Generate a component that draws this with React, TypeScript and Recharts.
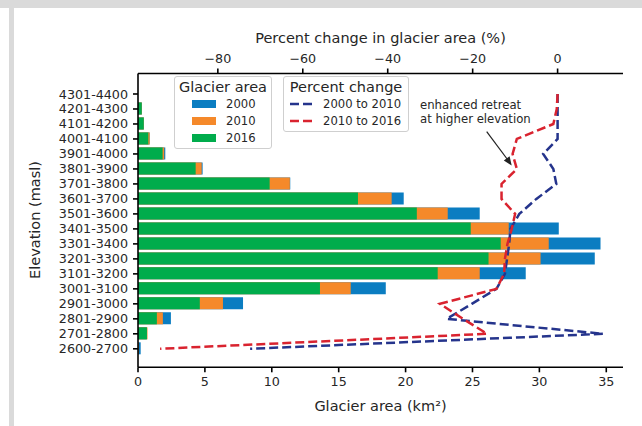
import React from 'react';
import { ComposedChart, Bar, Line, XAxis, YAxis } from 'recharts';

// elevation bands, listed top to bottom as drawn
const bands = [
  '4301-4400', '4201-4300', '4101-4200', '4001-4100', '3901-4000', '3801-3900',
  '3701-3800', '3601-3700', '3501-3600', '3401-3500', '3301-3400', '3201-3300',
  '3101-3200', '3001-3100', '2901-3000', '2801-2900', '2701-2800', '2600-2700',
];

// glacier area (km2) per band
const area2000 = [0, 0.28, 0.43, 0.87, 2.04, 4.83, 11.38, 19.86, 25.54, 31.45, 34.57, 34.14, 28.98, 18.52, 7.85, 2.46, 0.64, 0.2];
const area2010 = [0, 0.28, 0.43, 0.87, 1.96, 4.76, 11.35, 18.96, 23.15, 27.71, 30.7, 30.09, 25.54, 15.9, 6.35, 1.86, 0.71, 0.06];
const area2016 = [0, 0.28, 0.43, 0.77, 1.84, 4.31, 9.84, 16.44, 20.84, 24.87, 27.11, 26.2, 22.4, 13.6, 4.62, 1.41, 0.67, 0];

// percent change per band
const change0010 = [0, 0, 0, 0, -3.4, -1.0, -0.3, -5.0, -9.0, -11.1, -11.4, -11.9, -12.4, -14.4, -20.2, -26.1, 10.7, -72.4];
const change1016 = [0, -0.2, -1.0, -9.6, -10.6, -9.6, -13.2, -13.2, -10.0, -10.8, -11.8, -12.4, -12.6, -14.4, -27.7, -22.3, -16.6, -93.6];

const areaTicks = [0, 5, 10, 15, 20, 25, 30, 35];
const pctTicks = [-80, -60, -40, -20, 0];

const rows = bands.map((band, i) => ({
  band,
  a2000: area2000[i],
  a2010: area2010[i],
  a2016: area2016[i],
  c0010: change0010[i],
  c1016: change1016[i],
}));

const BLUE = '#0b7dc1';
const ORANGE = '#f5892a';
const GREEN = '#00ac4c';
const NAVY = '#25348c';
const RED = '#d9232f';
const FONT = '"DejaVu Sans", sans-serif';
const INK = '#262626';

const tickStyle = { fontSize: 12.7, fill: INK, fontFamily: FONT };
const minus = (v: number) => (v < 0 ? '\u2212' + Math.abs(v) : String(v));

export default function App() {
  return (
    <div style={{ position: 'absolute', left: 0, top: 0, width: 642, height: 426, background: '#fff', fontFamily: FONT, color: INK }}>
      {/* grey page frame */}
      <div style={{ position: 'absolute', left: 0, top: 0, width: 642, height: 8, background: '#dadada' }} />
      <div style={{ position: 'absolute', left: 9, top: 0, width: 5, height: 426, background: '#dadada' }} />

      <div style={{ position: 'absolute', left: 0, top: 0 }}>
        <ComposedChart
          width={642}
          height={426}
          data={rows}
          layout="vertical"
          margin={{ top: 0, right: 19, bottom: 0, left: 0 }}
          barSize={12}
          barGap={-12}
        >
          <XAxis
            xAxisId="area"
            type="number"
            orientation="bottom"
            domain={[0, 36.25]}
            allowDataOverflow
            ticks={areaTicks}
            height={58.7}
            tick={tickStyle}
            tickSize={5}
            tickMargin={5}
            stroke="#000"
            strokeWidth={1.6}
            label={{ value: 'Glacier area (km\u00b2)', position: 'insideBottom', offset: 15, fontSize: 14.5, fill: INK, fontFamily: FONT }}
          />
          <XAxis
            xAxisId="pct"
            type="number"
            orientation="top"
            domain={[-98.8, 15.4]}
            allowDataOverflow
            ticks={pctTicks}
            tickFormatter={minus}
            height={73.5}
            tick={tickStyle}
            tickSize={5}
            tickMargin={6}
            stroke="#000"
            strokeWidth={1.6}
            label={{ value: 'Percent change in glacier area (%)', position: 'insideTop', offset: 33, fontSize: 14.5, fill: INK, fontFamily: FONT }}
          />
          <YAxis
            yAxisId="band"
            type="category"
            dataKey="band"
            width={138}
            padding={{ top: 13, bottom: 11 }}
            interval={0}
            tick={tickStyle}
            tickSize={5}
            tickMargin={5}
            stroke="#000"
            strokeWidth={1.6}
          />
          <YAxis
            yAxisId="frame"
            type="category"
            dataKey="band"
            orientation="right"
            width={0}
            tick={false}
            tickLine={false}
            stroke="#000"
            strokeWidth={1.6}
          />

          <Bar xAxisId="area" yAxisId="band" dataKey="a2000" fill={BLUE} isAnimationActive={false} />
          <Bar xAxisId="area" yAxisId="band" dataKey="a2010" fill={ORANGE} isAnimationActive={false} />
          <Bar xAxisId="area" yAxisId="band" dataKey="a2016" fill={GREEN} isAnimationActive={false} />

          <Line xAxisId="pct" yAxisId="band" dataKey="c0010" stroke={NAVY} strokeWidth={2.5} strokeDasharray="9 4" dot={false} type="linear" isAnimationActive={false} />
          <Line xAxisId="pct" yAxisId="band" dataKey="c1016" stroke={RED} strokeWidth={2.5} strokeDasharray="9 4" dot={false} type="linear" isAnimationActive={false} />
        </ComposedChart>
      </div>

      {/* y axis title */}
      <div style={{ position: 'absolute', left: 35, top: 220, transform: 'translate(-50%, -50%) rotate(-90deg)', whiteSpace: 'nowrap', fontSize: 14.5, lineHeight: '16px' }}>
        Elevation (masl)
      </div>

      {/* legend: glacier area */}
      <div style={{ position: 'absolute', left: 174, top: 76, width: 98, height: 73, boxSizing: 'border-box', border: '1px solid #cfcfcf', borderRadius: 3, background: 'rgba(255,255,255,0.85)' }}>
        <div style={{ position: 'absolute', left: 0, top: 2, width: '100%', textAlign: 'center', fontSize: 14.5, lineHeight: '16px' }}>Glacier area</div>
        {[['2000', BLUE], ['2010', ORANGE], ['2016', GREEN]].map(([name, color], i) => (
          <React.Fragment key={name}>
            <div style={{ position: 'absolute', left: 17, top: 23 + i * 17, width: 24, height: 8, background: color }} />
            <div style={{ position: 'absolute', left: 51, top: 20 + i * 17, fontSize: 11.6, lineHeight: '14px' }}>{name}</div>
          </React.Fragment>
        ))}
      </div>

      {/* legend: percent change */}
      <div style={{ position: 'absolute', left: 283, top: 76, width: 126, height: 56, boxSizing: 'border-box', border: '1px solid #cfcfcf', borderRadius: 3, background: 'rgba(255,255,255,0.85)' }}>
        <div style={{ position: 'absolute', left: 0, top: 2, width: '100%', textAlign: 'center', fontSize: 14.5, lineHeight: '16px' }}>Percent change</div>
        {[['2000 to 2010', NAVY], ['2010 to 2016', RED]].map(([name, color], i) => (
          <React.Fragment key={name}>
            <svg style={{ position: 'absolute', left: 6, top: 23 + i * 17 }} width={24} height={8}>
              <line x1={0} y1={4} x2={24} y2={4} stroke={color} strokeWidth={2.5} strokeDasharray="9 4" />
            </svg>
            <div style={{ position: 'absolute', left: 39, top: 20 + i * 17, fontSize: 11.6, lineHeight: '14px' }}>{name}</div>
          </React.Fragment>
        ))}
      </div>

      {/* annotation */}
      <div style={{ position: 'absolute', left: 420, top: 99, fontSize: 11.7, lineHeight: '13.5px', whiteSpace: 'nowrap' }}>
        enhanced retreat<br />at higher elevation
      </div>
      <svg style={{ position: 'absolute', left: 0, top: 0, pointerEvents: 'none' }} width={642} height={426}>
        <line x1={486.7} y1={131.7} x2={509} y2={161.5} stroke="#222" strokeWidth={1.2} />
        <polygon points="511.7,165.5 503.8,160.6 509.6,156.3" fill="#222" />
      </svg>
    </div>
  );
}
